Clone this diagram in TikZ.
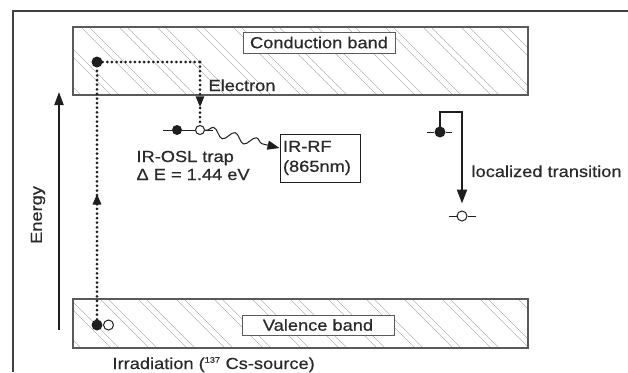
\documentclass[tikz,border=0pt]{standalone}
\usepackage{fontspec}
\setmainfont{Liberation Sans}[FakeStretch=1.14,FakeBold=0.6]
\usetikzlibrary{arrows.meta,decorations.pathmorphing,decorations.markings}
\definecolor{ink}{HTML}{1E1E1E}
\definecolor{txt}{HTML}{2A2A2A}
\definecolor{bandgray}{HTML}{5A5A5A}
\definecolor{hatchgray}{HTML}{B4B4B4}
\tikzset{
  every node/.style={font=\fontsize{16}{18}\selectfont, text=txt},
  band/.style={draw=bandgray, line width=1.1pt, inner sep=0pt, minimum width=455pt},
  bandlabel/.style={draw=bandgray, fill=white, line width=1pt, inner sep=0pt, minimum width=152pt, minimum height=21pt},
  hatchline/.style={draw=hatchgray, line width=0.6pt},
  fulldot/.style={circle, fill=ink, inner sep=0pt, minimum size=#1},
  hollowdot/.style={circle, draw=ink, fill=white, line width=1pt, inner sep=0pt, minimum size=#1},
  eline/.style={draw=ink, line width=3pt, dash pattern=on 0pt off 4.6pt, line cap=round},
  midarrow/.style={postaction={decorate, decoration={markings, mark=at position #1 with {\arrow[ink]{Triangle[width=8pt,length=11pt]}}}}},
  level/.style={draw=ink, line width=1pt},
  thickpath/.style={draw=ink, line width=2pt},
  framepath/.style={draw=ink!85, line width=1.4pt},
}
\begin{document}
\begin{tikzpicture}[x=1pt,y=-1pt]
\useasboundingbox (0,0) rectangle (628,372);
% outer frame
\coordinate (fb) at (13,372);
\coordinate (ftl) at (13,11);
\coordinate (ftr) at (628,11);
\draw[framepath] (fb) -- (ftl) -- (ftr);
% conduction band
\begin{scope}
\clip (73,27) rectangle (528,95);
\foreach \i in {0,...,13}{
  \pgfmathsetmacro{\xa}{5+38*\i}
  \pgfmathsetmacro{\xb}{13+38*\i}
  \draw[hatchline] (\xa,27) -- ++(68,68);
  \draw[hatchline] (\xb,27) -- ++(68,68);
}
\end{scope}
\node[band, minimum height=68pt] (cb) at (300.5,61) {};
\node[bandlabel] (cblabel) at (319,42.5) {Conduction band};
% valence band
\begin{scope}
\clip (73,299) rectangle (528,348);
\foreach \i in {0,...,13}{
  \pgfmathsetmacro{\xa}{24+38*\i}
  \pgfmathsetmacro{\xb}{32+38*\i}
  \draw[hatchline] (\xa,299) -- ++(49,49);
  \draw[hatchline] (\xb,299) -- ++(49,49);
}
\end{scope}
\node[band, minimum height=49pt] (vb) at (300.5,323.5) {};
\node[bandlabel, minimum height=20pt] (vblabel) at (318,325) {Valence band};
% energy axis
\coordinate (eb) at (59,330);
\coordinate (et) at (59,92);
\draw[thickpath, -{Triangle[width=9pt,length=13pt]}] (eb) -- (et);
\node[rotate=90] (energy) at (38,215) {Energy};
% electron path
\node[fulldot=11pt] (cd) at (97,62) {};
\node[fulldot=11pt] (vd) at (97,325) {};
\node[hollowdot=10pt] (vh) at (108.5,325) {};
\coordinate (corner) at (200,62);
\node[fulldot=10pt] (tf) at (177,130) {};
\node[hollowdot=9pt] (to) at (200,130) {};
\coordinate (tl) at (163,130);
\coordinate (tr) at (213,130);
\draw[level] (tl) -- (tf) -- (to) -- (tr);
\draw[eline, midarrow=0.5] (vd) -- (cd);
\draw[eline] (cd) -- (corner);
\draw[eline, midarrow=0.72] (corner) -- (to);
\node[anchor=base west] (electron) at (205,91) {Electron};
\node[anchor=base west] (trap) at (133,162) {IR-OSL trap};
\node[anchor=base west] (deltae) at (133,180) {Δ E = 1.44 eV};
% IR-RF
\node[draw=ink, line width=1pt, fill=white, minimum width=80pt, minimum height=48pt, inner xsep=3pt, inner ysep=0pt, align=left, text width=74pt, font=\fontsize{16}{20}\selectfont] (irrf) at (320,158) {IR-RF\\(865nm)};
\draw[draw=ink, line width=1pt, -{Triangle[width=9pt,length=12pt]}, decorate, decoration={snake, amplitude=4.5pt, segment length=22pt, pre length=1pt, post length=10pt}] (to.east) -- (irrf.west |- 0,148);
% localized transition
\node[fulldot=11pt] (ld) at (440,132) {};
\coordinate (ll) at (427,132);
\coordinate (lr) at (452,132);
\draw[level] (ll) -- (ld) -- (lr);
\node[hollowdot=10pt] (lo) at (462,216) {};
\coordinate (lol) at (449,216);
\coordinate (lor) at (476,216);
\draw[level] (lol) -- (lo) -- (lor);
\coordinate (lc1) at (440,112);
\coordinate (lc2) at (462,112);
\draw[thickpath, -{Triangle[width=10pt,length=14pt]}, shorten >=7pt] (ld.center) -- (lc1) -- (lc2) -- (lo.north);
\node[anchor=base west] (loc) at (468,177) {localized transition};
% irradiation
\node[anchor=base west] (irr) at (109,369) {Irradiation (\textsuperscript{\fontsize{8}{8}\selectfont 137} Cs-source)};
\end{tikzpicture}
\end{document}
